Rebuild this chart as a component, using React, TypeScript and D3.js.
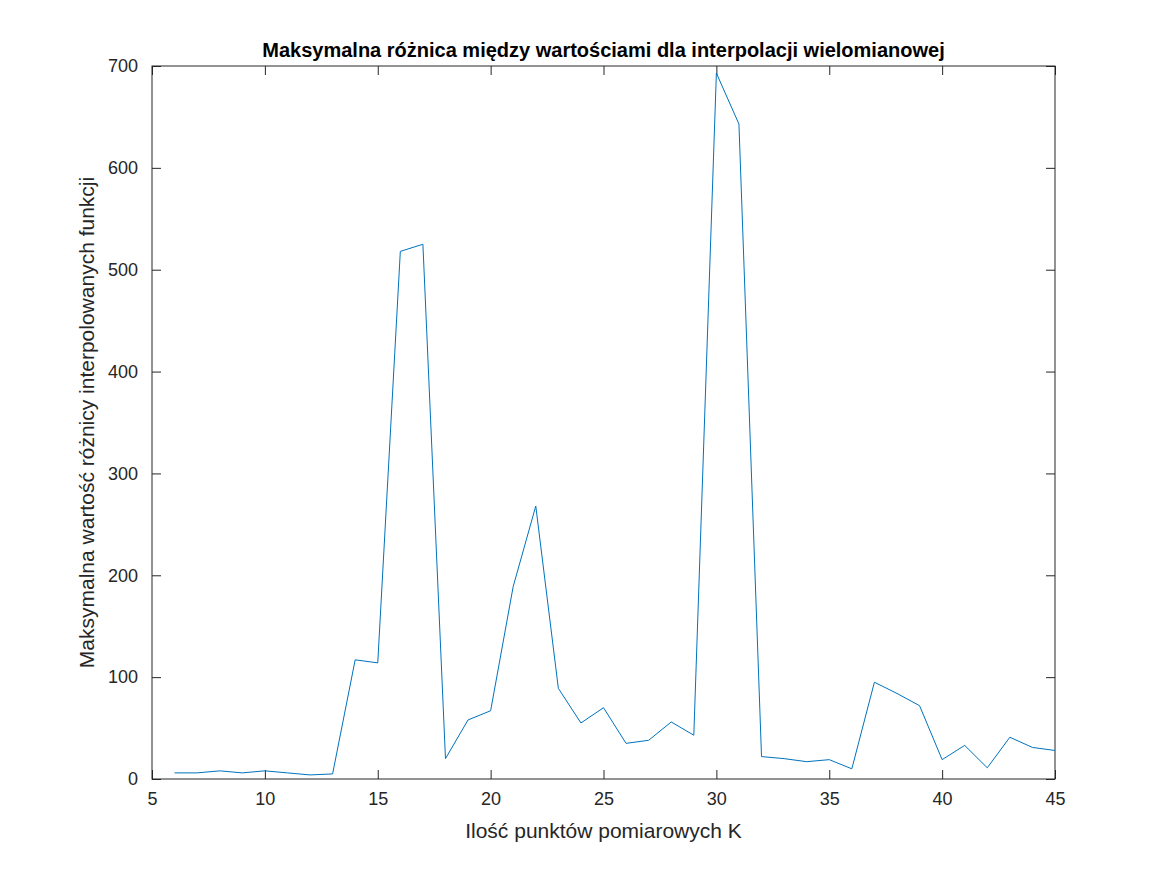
import React, { useEffect, useRef } from "react";
import * as d3 from "d3";

const kValues = d3.range(6, 46);
const maxDiff = [
  6, 6, 8, 6, 8, 6, 4, 5, 117, 114, 518, 525, 20, 58, 67, 189, 268, 89, 55, 70,
  35, 38, 56, 43, 693, 643, 22, 20, 17, 19, 10, 95, 84, 72, 19, 33, 11, 41, 31, 28,
];
const xTicks = [5, 10, 15, 20, 25, 30, 35, 40, 45];
const yTicks = [0, 100, 200, 300, 400, 500, 600, 700];

const App: React.FC = () => {
  const svgRef = useRef<SVGSVGElement | null>(null);
  const width = 1167;
  const height = 875;
  const margin = { top: 66, right: 112, bottom: 96, left: 152 };

  useEffect(() => {
    const svg = d3.select(svgRef.current);
    svg.selectAll("*").remove();
    const w = width - margin.left - margin.right;
    const h = height - margin.top - margin.bottom;
    const font = "Helvetica, Arial, 'Liberation Sans', sans-serif";

    const x = d3.scaleLinear().domain([5, 45]).range([0, w]);
    const y = d3.scaleLinear().domain([0, 700]).range([h, 0]);

    const chart = svg
      .append("g")
      .attr("transform", `translate(${margin.left},${margin.top})`);

    chart
      .append("rect")
      .attr("width", w)
      .attr("height", h)
      .attr("fill", "#fff");

    const styleAxis = (g: any) => {
      g.select(".domain").remove();
      g.selectAll("line").attr("stroke", "#262626");
      g.selectAll("text")
        .attr("fill", "#262626")
        .style("font-family", font)
        .style("font-size", "18px");
    };

    chart
      .append("g")
      .attr("transform", `translate(0,${h})`)
      .call(d3.axisBottom(x).tickValues(xTicks).tickSize(-9).tickPadding(13))
      .call(styleAxis);
    chart
      .append("g")
      .call(d3.axisTop(x).tickValues(xTicks).tickSize(-9).tickFormat(() => ""))
      .call(styleAxis);
    chart
      .append("g")
      .call(d3.axisLeft(y).tickValues(yTicks).tickSize(-9).tickPadding(14))
      .call(styleAxis);
    chart
      .append("g")
      .attr("transform", `translate(${w},0)`)
      .call(d3.axisRight(y).tickValues(yTicks).tickSize(-9).tickFormat(() => ""))
      .call(styleAxis);

    chart
      .append("rect")
      .attr("width", w)
      .attr("height", h)
      .attr("fill", "none")
      .attr("stroke", "#262626")
      .attr("stroke-width", 1);

    const line = d3
      .line<number>()
      .x((_, i) => x(kValues[i]))
      .y((d) => y(d));

    chart
      .append("path")
      .datum(maxDiff)
      .attr("d", line)
      .attr("fill", "none")
      .attr("stroke", "#0072BD")
      .attr("stroke-width", 1);

    chart
      .append("text")
      .attr("x", w / 2)
      .attr("y", -9)
      .attr("text-anchor", "middle")
      .style("font-family", font)
      .style("font-size", "20px")
      .style("font-weight", "bold")
      .text("Maksymalna różnica między wartościami dla interpolacji wielomianowej");

    chart
      .append("text")
      .attr("x", w / 2)
      .attr("y", h + 59)
      .attr("text-anchor", "middle")
      .attr("fill", "#262626")
      .style("font-family", font)
      .style("font-size", "21px")
      .text("Ilość punktów pomiarowych K");

    chart
      .append("text")
      .attr("transform", `translate(-58,${h / 2}) rotate(-90)`)
      .attr("text-anchor", "middle")
      .attr("fill", "#262626")
      .style("font-family", font)
      .style("font-size", "21px")
      .text("Maksymalna wartość różnicy interpolowanych funkcji");
  }, []);

  return (
    <svg
      ref={svgRef}
      width={width}
      height={height}
      style={{ position: "absolute", left: 0, top: 0, background: "#fff" }}
    ></svg>
  );
};

export default App;
